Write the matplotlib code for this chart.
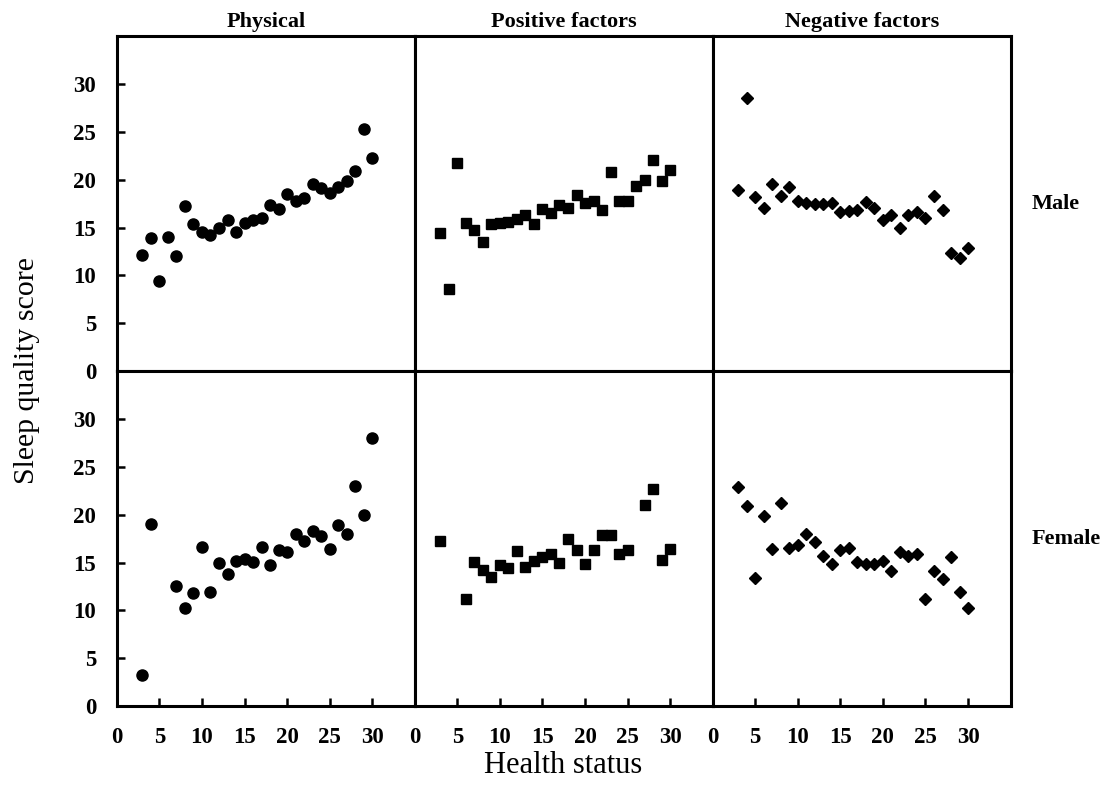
import matplotlib.pyplot as plt

# x values (health status) and sleep quality scores
x_todos = list(range(3, 31))

fis_hombre = [12.1, 13.9, 9.4, 14.0, 12.0, 17.3, 15.4, 14.5, 14.2, 15.0, 15.8, 14.5, 15.5, 15.8,
              16.0, 17.4, 17.0, 18.5, 17.8, 18.1, 19.6, 19.1, 18.6, 19.2, 19.9, 20.9, 25.3, 22.3]
pos_hombre = [14.4, 8.6, 21.8, 15.5, 14.8, 13.5, 15.4, 15.5, 15.6, 15.9, 16.3, 15.4, 16.9, 16.5,
              17.4, 17.1, 18.4, 17.6, 17.8, 16.8, 20.8, 17.8, 17.8, 19.3, 20.0, 22.1, 19.9, 21.0]
neg_hombre = [18.9, 28.5, 18.2, 17.1, 19.6, 18.3, 19.2, 17.8, 17.6, 17.5, 17.5, 17.6, 16.6, 16.7,
              16.8, 17.7, 17.1, 15.8, 16.3, 15.0, 16.3, 16.6, 16.0, 18.3, 16.8, 12.4, 11.8, 12.9]

x_fis_mujer = [3, 4] + list(range(7, 31))
fis_mujer = [3.2, 19.0, 12.5, 10.3, 11.8, 16.6, 11.9, 14.9, 13.8, 15.2, 15.4, 15.1, 16.6, 14.7,
             16.3, 16.1, 18.0, 17.2, 18.3, 17.8, 16.4, 18.9, 18.0, 23.0, 20.0, 28.0]
x_pos_mujer = [3] + list(range(6, 26)) + [27, 28, 29, 30]
pos_mujer = [17.3, 11.2, 15.1, 14.2, 13.5, 14.7, 14.4, 16.2, 14.5, 15.2, 15.6, 15.9, 15.0, 17.5,
             16.3, 14.8, 16.3, 17.9, 17.9, 15.9, 16.3, 21.0, 22.7, 15.3, 16.4]
neg_mujer = [22.9, 20.9, 13.4, 19.9, 16.4, 21.2, 16.5, 16.8, 18.0, 17.1, 15.7, 14.8, 16.3, 16.5,
             15.1, 14.8, 14.8, 15.2, 14.1, 16.1, 15.7, 15.9, 11.2, 14.1, 13.3, 15.6, 11.9, 10.3]

columnas = ['Physical', 'Positive factors', 'Negative factors']
filas = ['Male', 'Female']
marcadores = ['o', 's', 'D']
tamanos = [8, 7.5, 6.5]

datos = [
    [(x_todos, fis_hombre), (x_todos, pos_hombre), (x_todos, neg_hombre)],
    [(x_fis_mujer, fis_mujer), (x_pos_mujer, pos_mujer), (x_todos, neg_mujer)],
]

plt.rcParams['font.family'] = ['Liberation Serif', 'DejaVu Serif']

fig, axs = plt.subplots(2, 3, figsize=(11.13, 8.06), dpi=100, sharex=True, sharey=True)
fig.subplots_adjust(left=0.105, right=0.908, top=0.955, bottom=0.124, wspace=0, hspace=0)

for i in range(2):
    for j in range(3):
        ax = axs[i, j]
        xs, ys = datos[i][j]
        ax.plot(xs, ys, linestyle='none', marker=marcadores[j], markersize=tamanos[j],
                color='black', markeredgecolor='black')
        ax.set_xlim(0, 35)
        ax.set_ylim(0, 35)
        for lado in ax.spines.values():
            lado.set_linewidth(2.2)
        ax.set_xticks([0, 5, 10, 15, 20, 25, 30])
        ax.set_yticks([0, 5, 10, 15, 20, 25, 30])
        ax.tick_params(direction='in', length=6, width=1.8, labelsize=16.5, pad=15)
        if i == 0:
            ax.tick_params(axis='x', length=0)
            ax.set_title(columnas[j], fontsize=16, fontweight='bold', pad=7)
        if j != 0:
            ax.tick_params(axis='y', length=0)
        if j == 2:
            ax.text(1.07, 0.5, filas[i], transform=ax.transAxes, fontsize=16,
                    fontweight='bold', ha='left', va='center')
        for et in ax.get_xticklabels() + ax.get_yticklabels():
            et.set_fontweight('bold')

fig.text(0.024, 0.54, 'Sleep quality score', rotation=90, fontsize=21.5, ha='center', va='center')
fig.text(0.506, 0.05, 'Health status', fontsize=22, ha='center', va='center')

plt.savefig('out.png', dpi=100)
